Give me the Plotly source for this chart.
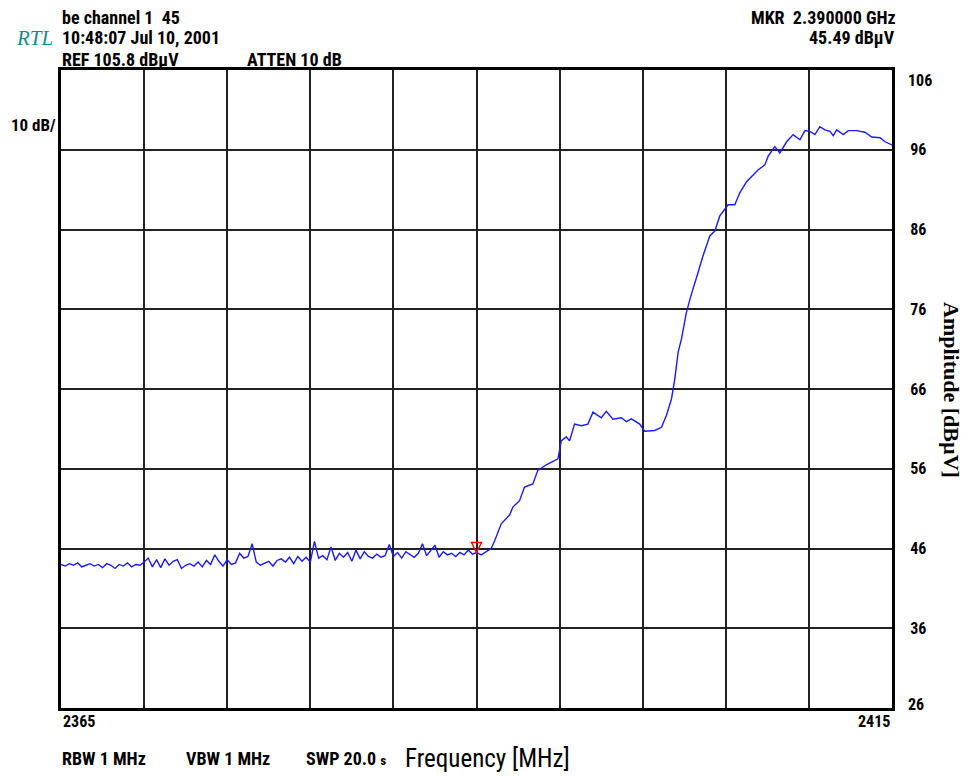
import plotly.graph_objects as go

# ---------------- data ----------------
noise_freq = [round(2365 + 0.25 * i, 2) for i in range(101)]
noise_amp = [
    44.0, 43.8, 44.1, 43.9, 44.2, 43.7, 43.9, 44.1, 43.8, 44.0,
    43.6, 44.1, 43.9, 43.5, 44.0, 43.8, 44.2, 43.7, 44.0, 43.9,
    44.3, 44.8, 43.7, 44.6, 43.6, 44.7, 43.9, 44.4, 44.6, 43.5,
    43.9, 44.1, 43.8, 44.3, 43.7, 44.5, 44.0, 45.2, 44.4, 43.8,
    44.6, 44.0, 44.2, 45.4, 44.8, 45.0, 46.6, 44.3, 43.9, 44.2,
    44.4, 43.8, 44.5, 44.7, 44.3, 44.9, 44.1, 45.0, 44.4, 44.9,
    44.3, 46.9, 44.8, 45.1, 44.6, 46.2, 44.5, 45.4, 44.9, 45.5,
    44.4, 45.8, 44.7, 45.6, 45.0, 44.8, 45.3, 44.9, 45.1, 46.5,
    45.0, 45.5, 44.8, 45.6, 45.2, 44.9, 45.4, 46.6, 45.1, 45.7,
    46.4, 44.9, 45.6, 45.2, 45.4, 45.0, 45.5, 45.2, 45.8, 45.3,
    45.5,
]
rise_freq = [
    2390.28, 2390.88, 2391.08, 2391.49, 2391.99, 2392.19, 2392.59, 2392.89,
    2393.39, 2393.69, 2394.20, 2394.90, 2395.10, 2395.40, 2395.60, 2395.90,
    2396.31, 2396.70, 2397.01, 2397.51, 2397.81, 2398.21, 2398.72, 2399.02,
    2399.32, 2399.82, 2400.12, 2400.72, 2401.13, 2401.43, 2401.73, 2401.93,
    2402.13, 2402.33, 2402.63, 2402.93, 2403.33, 2403.63, 2404.04, 2404.34,
    2404.64, 2405.14, 2405.54, 2405.84, 2406.25, 2406.64, 2406.95, 2407.35,
    2407.55, 2407.95, 2408.25, 2408.66, 2409.05, 2409.46, 2409.76, 2410.06,
    2410.36, 2410.66, 2410.96, 2411.27, 2411.46, 2411.67, 2412.07, 2412.37,
    2412.87, 2413.37, 2413.78, 2414.28, 2414.58, 2415.00,
]
rise_amp = [
    45.2, 46.0, 46.9, 49.1, 50.2, 51.2, 52.0, 53.7,
    54.1, 55.8, 56.5, 57.25, 59.5, 60.0, 59.5, 61.6,
    61.4, 61.6, 63.1, 62.4, 63.2, 62.2, 62.4, 61.9,
    62.25, 61.6, 60.7, 60.8, 61.2, 62.7, 64.75, 67.25,
    70.6, 72.25, 75.6, 77.9, 80.6, 82.7, 85.2, 85.8,
    87.7, 89.1, 89.1, 90.6, 92.0, 92.9, 93.5, 94.1,
    95.2, 96.4, 95.6, 97.0, 97.9, 97.25, 98.4, 98.3,
    97.9, 98.9, 98.5, 98.3, 97.75, 98.5, 97.9, 98.4,
    98.4, 98.2, 97.6, 97.5, 97.0, 96.6,
]
freq = noise_freq + rise_freq
amp = noise_amp + rise_amp

marker_freq = [2390.0]
marker_amp = [45.49]

x_grid = [2370, 2375, 2380, 2385, 2390, 2395, 2400, 2405, 2410]
x_ends = [2365, 2415]
y_ticks = [36, 46, 56, 66, 76, 86, 96]
y_ends = [106, 26]

# ---------------- layout geometry ----------------
OFF = 8  # page body margin
W, H = 968 - OFF, 776 - OFF
L, R, T, B = 61 - OFF, 892 - OFF, 70 - OFF, 708 - OFF
PW, PH = R - L, B - T


def px(x, y):
    # x, y: positions in the target page's pixels
    return (x - OFF - L) / PW, (B - (y - OFF)) / PH


NARROW = "Liberation Sans Narrow, Roboto Condensed, DejaVu Sans Condensed, Arial Narrow, sans-serif"
SERIF = "Liberation Serif, DejaVu Serif, Times New Roman, serif"

fig = go.Figure()
fig.add_trace(go.Scatter(
    x=freq, y=amp, mode="lines",
    line=dict(color="#1a1aff", width=1.4),
    hoverinfo="skip", showlegend=False,
))

# marker triangle (tip at the marker point)
fig.add_shape(
    type="path", xref="x", yref="y",
    xsizemode="pixel", ysizemode="pixel",
    xanchor=marker_freq[0], yanchor=marker_amp[0],
    path="M -5 10 L 5 10 L 0 0 Z",
    line=dict(color="#ff0000", width=1.4),
)

annotations = []


def txt(text, x, y, size=18, xanchor="left", font=NARROW, weight="bold", color="black", angle=0, style="normal"):
    xp, yp = px(x, y)
    annotations.append(dict(
        text=text, x=xp, y=yp, xref="paper", yref="paper",
        xanchor=xanchor, yanchor="middle", showarrow=False,
        textangle=angle,
        font=dict(family=font, size=size, color=color, weight=weight, style=style),
    ))


# header
txt("be channel 1  45", 60, 17)
txt("10:48:07 Jul 10, 2001", 60, 38)
txt("REF 105.8 dBµV", 60, 59)
txt("ATTEN 10 dB", 245, 59)
txt("RTL", 14, 38, size=21, font=SERIF, weight="normal", color="#1a8a8a", style="italic")
txt("MKR  2.390000 GHz", 898, 17, xanchor="right")
txt("45.49 dBµV", 897, 38, xanchor="right")
txt("10 dB/", 9, 125, size=17)

# footer
txt("RBW 1 MHz", 60, 758)
txt("VBW 1 MHz", 184, 758)
txt("SWP 20.0 <span style='font-size:13px'>s</span>", 304, 758)
txt("Frequency [MHz]", 403, 758, size=25, weight="normal")

# x-axis end labels
for v, anchor in zip(x_ends, ["left", "right"]):
    annotations.append(dict(
        text=str(v), x=v, xref="x", y=0, yref="paper", yshift=-13,
        xanchor=anchor, yanchor="middle", showarrow=False,
        font=dict(family=NARROW, size=16, color="black", weight="bold"),
    ))
# y-axis end labels
for v, sh in zip(y_ends, [-10, 4]):
    annotations.append(dict(
        text=str(v), y=v, yref="y", x=1, xref="paper", xshift=14, yshift=sh,
        xanchor="left", yanchor="middle", showarrow=False,
        font=dict(family=NARROW, size=16, color="black", weight="bold"),
    ))

# y title
txt("Amplitude [dBµV]", 951, 390, size=22, font=SERIF, weight="bold", xanchor="center", angle=90)

fig.update_layout(
    width=W, height=H,
    margin=dict(l=L, r=W - R, t=T, b=H - B, pad=0),
    paper_bgcolor="white", plot_bgcolor="white",
    showlegend=False,
    annotations=annotations,
    xaxis=dict(
        range=[2365, 2415], tickvals=x_grid, showticklabels=False, ticks="",
        showgrid=True, gridcolor="#222222", gridwidth=1.8, zeroline=False,
        showline=True, linecolor="black", linewidth=3, mirror=True,
        fixedrange=True,
    ),
    yaxis=dict(
        range=[26, 106], tickvals=y_ticks, ticktext=[str(v) for v in y_ticks],
        side="right", ticks="", ticklabelstandoff=12,
        tickfont=dict(family=NARROW, size=16, color="black", weight="bold"),
        showgrid=True, gridcolor="#222222", gridwidth=1.8, zeroline=False,
        showline=True, linecolor="black", linewidth=3, mirror=True,
        fixedrange=True,
    ),
)

fig.write_html("out.html")
